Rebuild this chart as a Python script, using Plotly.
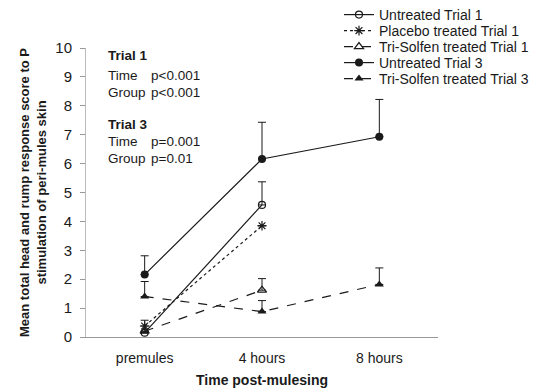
import plotly.graph_objects as go

categories = ["premules", "4 hours", "8 hours"]

untreated_t1 = [0.15, 4.57]
untreated_t1_err = [0.0, 0.8]
placebo_t1 = [0.38, 3.85]
placebo_t1_err = [0.2, 0.0]
trisolfen_t1 = [0.2, 1.62]
trisolfen_t1_err = [0.0, 0.4]
untreated_t3 = [2.16, 6.16, 6.93]
untreated_t3_err = [0.65, 1.27, 1.29]
trisolfen_t3 = [1.4, 0.88, 1.82]
trisolfen_t3_err = [0.52, 0.38, 0.57]

C = "#1a1a1a"
L, R, T, B = 86, 100, 48, 53
W, H = 538 - L - R, 390 - T - B

def px_x(x):
    return (x - L) / W

def px_y(y):
    return (390 - B - y) / H

def err(vals):
    return dict(type="data", array=vals, arrayminus=[0]*len(vals), symmetric=False,
                color=C, thickness=1, width=4)

fig = go.Figure()
fig.add_trace(go.Scatter(x=categories[:2], y=untreated_t1, name="Untreated Trial 1",
    mode="lines+markers", line=dict(color=C, width=1.2), legend="legend",
    marker=dict(symbol="circle-open", size=7, color=C, line=dict(width=1.2)),
    error_y=err(untreated_t1_err)))
fig.add_trace(go.Scatter(x=categories[:2], y=placebo_t1, name="Placebo treated Trial 1",
    mode="lines+markers", line=dict(color=C, width=1.2, dash="dot"), legend="legend2",
    marker=dict(symbol="asterisk-open", size=8, color=C, line=dict(width=1.2, color=C)),
    error_y=err(placebo_t1_err)))
fig.add_trace(go.Scatter(x=categories[:2], y=trisolfen_t1, name="Tri-Solfen treated Trial 1",
    mode="lines+markers", line=dict(color=C, width=1.2, dash="dash"), legend="legend3",
    marker=dict(symbol="triangle-up-open", size=8, color=C, line=dict(width=1.2)),
    error_y=err(trisolfen_t1_err)))
fig.add_trace(go.Scatter(x=categories, y=untreated_t3, name="Untreated Trial 3",
    mode="lines+markers", line=dict(color=C, width=1.2), legend="legend4",
    marker=dict(symbol="circle", size=8, color=C),
    error_y=err(untreated_t3_err)))
fig.add_trace(go.Scatter(x=categories, y=trisolfen_t3, name="Tri-Solfen treated Trial 3",
    mode="lines+markers", line=dict(color=C, width=1.2, dash="dash"), legend="legend5",
    marker=dict(symbol="triangle-up", size=8, color=C),
    error_y=err(trisolfen_t3_err)))

font = dict(family="Arial, Liberation Sans, sans-serif", color=C)
ann = []
lines = [("<b>Trial 1</b>", "", 56), ("Time", "p<0.001", 75), ("Group", "p<0.001", 92),
         ("<b>Trial 3</b>", "", 124), ("Time", "p=0.001", 141), ("Group", "p=0.01", 158)]
for a, b, yy in lines:
    ann.append(dict(text=a, x=px_x(106), y=px_y(yy), xref="paper", yref="paper", showarrow=False,
                    xanchor="left", yanchor="middle", font=dict(size=13.5, **font)))
    if b:
        ann.append(dict(text=b, x=px_x(149), y=px_y(yy), xref="paper", yref="paper", showarrow=False,
                        xanchor="left", yanchor="middle", font=dict(size=13.5, **font)))

legend_rows = [15, 31, 47, 63, 79]
legends = {}
for i, yy in enumerate(legend_rows):
    key = "legend" if i == 0 else f"legend{i+1}"
    legends[key] = dict(x=px_x(339), y=px_y(yy), xanchor="left", yanchor="middle",
                        font=dict(size=14, **font), itemwidth=30,
                        bgcolor="rgba(0,0,0,0)", borderwidth=0)

fig.update_layout(
    width=538, height=390,
    margin=dict(l=L, r=R, t=T, b=B, autoexpand=False),
    paper_bgcolor="white", plot_bgcolor="white",
    font=dict(size=13, **font),
    showlegend=True,
    annotations=ann,
    xaxis=dict(type="category", range=[-0.5, 2.5], showline=True, linecolor="#999",
               linewidth=1, ticks="", showgrid=False, zeroline=False, automargin=False,
               tickfont=dict(size=14, **font), ticklabelstandoff=8,
               title=dict(text="<b>Time post-mulesing</b>", font=dict(size=14, **font), standoff=10)),
    yaxis=dict(range=[0, 10], dtick=1, showline=True, linecolor="#bbb", linewidth=1,
               ticks="outside", ticklen=5, tickcolor="#999", showgrid=False, zeroline=False,
               tickfont=dict(size=15, **font), ticklabelstandoff=5, automargin=False,
               title=dict(text="<b>Mean total head and rump response score to P<br>stimulation of peri-mules skin</b>",
                          font=dict(size=13, **font), standoff=5)),
    **legends,
)
fig.write_html("out.html")
